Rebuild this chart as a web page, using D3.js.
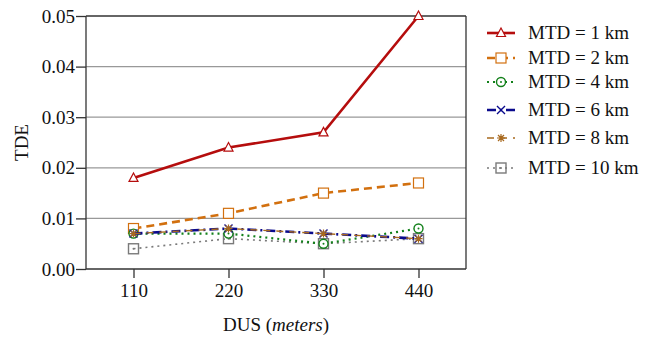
<!DOCTYPE html>
<html lang="en">
<head>
  <meta charset="UTF-8">
  <title>TDE vs DUS</title>
  <script src="https://d3js.org/d3.v7.min.js"></script>
  <style>
    body { margin: 0; background: #fff; }
    svg text { fill: #111; font-family: "Liberation Serif", "DejaVu Serif", "Times New Roman", serif; }
  </style>
</head>
<body>
  <svg width="658" height="337"></svg>
  <script>
    // data
    const dus = ["110", "220", "330", "440"];
    const yTicks = [0, 0.01, 0.02, 0.03, 0.04, 0.05];
    const seriesNames = ["MTD = 1 km", "MTD = 2 km", "MTD = 4 km", "MTD = 6 km", "MTD = 8 km", "MTD = 10 km"];
    const mtd1 = [0.018, 0.024, 0.027, 0.050];
    const mtd2 = [0.008, 0.011, 0.015, 0.017];
    const mtd4 = [0.007, 0.007, 0.005, 0.008];
    const mtd6 = [0.007, 0.008, 0.007, 0.006];
    const mtd8 = [0.007, 0.008, 0.007, 0.006];
    const mtd10 = [0.004, 0.006, 0.005, 0.006];

    const series = [
      { name: seriesNames[0], values: mtd1, color: "#b50d0d", width: 2.6, dash: null, marker: "triangle" },
      { name: seriesNames[1], values: mtd2, color: "#d2700f", width: 2.6, dash: "8,5", marker: "square" },
      { name: seriesNames[2], values: mtd4, color: "#12801a", width: 2.2, dash: "2,4", marker: "circle" },
      { name: seriesNames[3], values: mtd6, color: "#0a0a8c", width: 2.6, dash: "9,4,2,4", marker: "x" },
      { name: seriesNames[4], values: mtd8, color: "#a8691e", width: 1.4, dash: "7,6", marker: "star" },
      { name: seriesNames[5], values: mtd10, color: "#7a7a7a", width: 1.6, dash: "2,4", marker: "squaredot" }
    ];

    const svg = d3.select("svg");
    const pLeft = 86, pRight = 466, pTop = 16, pBottom = 269;
    const fs = "19px";

    const x = d3.scalePoint().domain(dus).range([pLeft, pRight]).padding(0.5);
    const y = d3.scaleLinear().domain([0, 0.05]).range([pBottom, pTop]);

    // gridlines
    svg.append("g")
      .selectAll("line")
      .data(yTicks.slice(1))
      .join("line")
      .attr("x1", pLeft).attr("x2", pRight)
      .attr("y1", d => y(d)).attr("y2", d => y(d))
      .attr("stroke", (d, i) => i === yTicks.length - 2 ? "#333" : "#999")
      .attr("stroke-width", 1.3);

    // right frame
    svg.append("line")
      .attr("x1", pRight).attr("x2", pRight).attr("y1", pTop).attr("y2", pBottom)
      .attr("stroke", "#333").attr("stroke-width", 1.3);

    const yAxis = svg.append("g")
      .attr("transform", `translate(${pLeft},0)`)
      .call(d3.axisLeft(y).tickValues(yTicks).tickFormat(d3.format(".2f")).tickSize(10).tickPadding(1));
    const xAxis = svg.append("g")
      .attr("transform", `translate(0,${pBottom})`)
      .call(d3.axisBottom(x).tickSize(9).tickPadding(6));

    [yAxis, xAxis].forEach(a => {
      a.attr("font-family", null).attr("font-size", null);
      a.select(".domain").attr("stroke", "#333").attr("stroke-width", 1.3);
      a.selectAll(".tick line").attr("stroke", "#333").attr("stroke-width", 1.3);
      a.selectAll("text").style("font-size", fs).attr("fill", "#111");
    });
    // flat axis lines without the outer ticks
    xAxis.select(".domain").attr("d", `M${pLeft},0H${pRight}`);
    yAxis.select(".domain").attr("d", `M0,${pBottom}V${pTop}`);

    // axis titles
    svg.append("text")
      .attr("transform", `translate(28,${(pTop + pBottom) / 2}) rotate(-90)`)
      .attr("text-anchor", "middle")
      .style("font-size", fs)
      .text("TDE");

    const xt = svg.append("text")
      .attr("x", (pLeft + pRight) / 2).attr("y", 331)
      .attr("text-anchor", "middle")
      .style("font-size", fs);
    xt.append("tspan").text("DUS (");
    xt.append("tspan").style("font-style", "italic").text("meters");
    xt.append("tspan").text(")");

    function drawMarker(g, s, cx, cy) {
      const c = s.color;
      if (s.marker === "triangle") {
        g.append("path").attr("d", `M${cx},${cy - 5}L${cx + 4.5},${cy + 3.5}L${cx - 4.5},${cy + 3.5}Z`)
          .attr("fill", "#fff").attr("stroke", c).attr("stroke-width", 1.2);
      } else if (s.marker === "square") {
        g.append("rect").attr("x", cx - 5).attr("y", cy - 5).attr("width", 10).attr("height", 10)
          .attr("fill", "#fff").attr("stroke", c).attr("stroke-width", 1.2);
      } else if (s.marker === "circle") {
        g.append("circle").attr("cx", cx).attr("cy", cy).attr("r", 4.5)
          .attr("fill", "#fff").attr("stroke", c).attr("stroke-width", 1.4);
        g.append("circle").attr("cx", cx).attr("cy", cy).attr("r", 1).attr("fill", c);
      } else if (s.marker === "x") {
        g.append("path").attr("d", `M${cx - 4},${cy - 4}L${cx + 4},${cy + 4}M${cx - 4},${cy + 4}L${cx + 4},${cy - 4}`)
          .attr("stroke", c).attr("stroke-width", 1.4);
      } else if (s.marker === "star") {
        g.append("path").attr("d", `M${cx - 4},${cy}L${cx + 4},${cy}M${cx},${cy - 4}L${cx},${cy + 4}M${cx - 3},${cy - 3}L${cx + 3},${cy + 3}M${cx - 3},${cy + 3}L${cx + 3},${cy - 3}`)
          .attr("stroke", c).attr("stroke-width", 1.2);
      } else if (s.marker === "squaredot") {
        g.append("rect").attr("x", cx - 5).attr("y", cy - 5).attr("width", 10).attr("height", 10)
          .attr("fill", "none").attr("stroke", c).attr("stroke-width", 1.4);
        g.append("circle").attr("cx", cx).attr("cy", cy).attr("r", 1).attr("fill", c);
      }
    }

    const line = d3.line().x((d, i) => x(dus[i])).y(d => y(d));

    // series, 10 km first so it sits underneath
    const order = [5, 0, 1, 2, 3, 4];
    order.forEach(k => {
      const s = series[k];
      const g = svg.append("g");
      g.append("path").datum(s.values)
        .attr("d", line)
        .attr("fill", "none")
        .attr("stroke", s.color)
        .attr("stroke-width", s.width)
        .attr("stroke-dasharray", s.dash);
      s.values.forEach((v, i) => drawMarker(g, s, x(dus[i]), y(v)));
    });

    // legend
    const legendY = [33, 58, 82, 110, 138, 168];
    const lg = svg.append("g");
    series.forEach((s, i) => {
      const g = lg.append("g");
      const ly = legendY[i];
      g.append("line")
        .attr("x1", 487).attr("x2", 515).attr("y1", ly).attr("y2", ly)
        .attr("stroke", s.color).attr("stroke-width", s.width)
        .attr("stroke-dasharray", s.dash);
      drawMarker(g, s, 501, ly);
      g.append("text")
        .attr("x", 528).attr("y", ly + 6)
        .style("font-size", fs)
        .text(s.name);
    });
  </script>
</body>
</html>
